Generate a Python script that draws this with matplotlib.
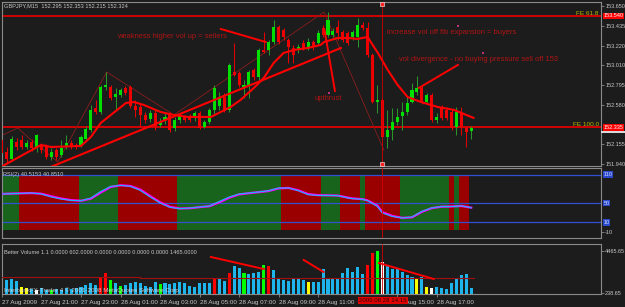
import matplotlib
matplotlib.use("Agg")
import matplotlib.pyplot as plt
import matplotlib.transforms as mtransforms
from matplotlib.lines import Line2D

############################################
# DATA
############################################

symbol = "GBPJPY,M15"

opens = [152.200, 152.070, 151.994, 152.178, 152.200, 152.124, 152.178, 152.124, 152.135, 152.124,
         152.016, 152.091, 152.037, 152.124, 152.167, 152.146, 152.146, 152.210, 152.308, 152.546,
         152.503, 152.773, 152.773, 152.665, 152.687, 152.763, 152.773, 152.568, 152.557, 152.470,
         152.427, 152.492, 152.362, 152.416, 152.481, 152.330, 152.416, 152.449, 152.460, 152.438,
         152.492, 152.340, 152.395, 152.525, 152.568, 152.665, 152.525, 152.936, 152.925, 152.773,
         152.795, 152.957, 152.882, 153.174, 153.174, 153.260, 153.423, 153.390, 153.282, 153.195,
         153.174, 153.250, 153.206, 153.260, 153.250, 153.412, 153.336, 153.336, 153.423, 153.369,
         153.358, 153.315, 153.315, 153.444, 153.412, 153.120, 152.611, 152.633, 152.232, 152.308,
         152.395, 152.460, 152.503, 152.611, 152.719, 152.763, 152.611, 152.687, 152.416, 152.557,
         152.525, 152.503, 152.340, 152.492, 152.330, 152.295]
highs = [152.221, 152.124, 152.243, 152.221, 152.254, 152.200, 152.210, 152.265, 152.167, 152.156,
         152.113, 152.113, 152.200, 152.254, 152.200, 152.167, 152.254, 152.351, 152.579, 152.633,
         152.795, 152.936, 152.795, 152.763, 152.763, 152.784, 152.795, 152.633, 152.600, 152.503,
         152.525, 152.525, 152.438, 152.492, 152.503, 152.449, 152.492, 152.470, 152.481, 152.514,
         152.514, 152.416, 152.546, 152.795, 152.719, 152.708, 153.033, 153.250, 152.947, 152.849,
         152.957, 152.979, 153.195, 153.369, 153.282, 153.499, 153.444, 153.412, 153.304, 153.228,
         153.239, 153.282, 153.304, 153.282, 153.390, 153.444, 153.585, 153.412, 153.499, 153.390,
         153.379, 153.390, 153.520, 153.477, 153.477, 153.141, 152.795, 152.654, 152.525, 152.546,
         152.546, 152.611, 152.665, 152.817, 152.892, 152.784, 152.708, 152.708, 152.492, 152.579,
         152.557, 152.525, 152.557, 152.557, 152.351, 152.353]
lows = [152.016, 151.951, 151.972, 152.091, 152.102, 152.102, 152.081, 152.070, 152.059, 151.994,
        151.983, 151.983, 152.016, 152.102, 152.102, 152.102, 152.124, 152.189, 152.286, 152.481,
        152.481, 152.741, 152.633, 152.525, 152.665, 152.687, 152.546, 152.449, 152.340, 152.384,
        152.395, 152.308, 152.340, 152.373, 152.286, 152.297, 152.384, 152.395, 152.395, 152.405,
        152.319, 152.330, 152.373, 152.481, 152.525, 152.503, 152.503, 152.892, 152.773, 152.654,
        152.654, 152.849, 152.849, 153.141, 153.120, 153.239, 153.239, 153.282, 153.033, 153.033,
        153.141, 153.174, 153.174, 153.174, 153.228, 153.315, 153.315, 153.315, 153.282, 153.260,
        153.228, 153.282, 153.206, 153.390, 153.098, 152.600, 152.492, 152.221, 152.113, 152.200,
        152.362, 152.308, 152.470, 152.600, 152.687, 152.589, 152.589, 152.395, 152.384, 152.416,
        152.416, 152.308, 152.254, 152.254, 152.124, 152.215]
closes = [152.059, 151.994, 152.210, 152.124, 152.124, 152.167, 152.113, 152.254, 152.091, 152.016,
          152.070, 152.016, 152.113, 152.167, 152.124, 152.124, 152.232, 152.319, 152.525, 152.503,
          152.773, 152.795, 152.654, 152.698, 152.741, 152.708, 152.568, 152.525, 152.470, 152.416,
          152.492, 152.340, 152.395, 152.449, 152.308, 152.416, 152.460, 152.416, 152.416, 152.492,
          152.330, 152.395, 152.525, 152.763, 152.654, 152.525, 153.012, 152.903, 152.795, 152.795,
          152.936, 152.882, 153.174, 153.152, 153.260, 153.423, 153.260, 153.315, 153.206, 153.120,
          153.206, 153.195, 153.260, 153.206, 153.358, 153.336, 153.499, 153.379, 153.358, 153.282,
          153.250, 153.369, 153.444, 153.412, 153.120, 152.611, 152.633, 152.232, 152.308, 152.395,
          152.449, 152.503, 152.600, 152.741, 152.763, 152.611, 152.687, 152.416, 152.449, 152.438,
          152.438, 152.330, 152.503, 152.340, 152.286, 152.324]

# moving average (thick red) and drawn trendline
ma_x = [-0.2, 7.9, 9.9, 16.0, 18.0, 20.0, 25.1, 26.7, 28.7, 32.1, 34.8, 37.6,
        42.3, 44.3, 46.3, 48.3, 51.0, 53.0, 55.0, 57.0, 59.1, 61.9, 64.5, 65.2,
        68.0, 70.0, 72.0, 74.0, 76.1, 78.1, 80.1, 82.1, 84.8, 88.2, 91.5, 95.5]
ma_y = [151.908, 152.146, 152.124, 152.135, 152.232, 152.384, 152.600, 152.611, 152.579, 152.503, 152.470, 152.449,
        152.449, 152.503, 152.557, 152.633, 152.763, 152.871, 153.033, 153.141, 153.174, 153.195, 153.228, 153.260,
        153.304, 153.304, 153.293, 153.315, 153.141, 152.957, 152.795, 152.665, 152.611, 152.557, 152.525, 152.438]
trend_x = [9.9, 68.6]
trend_y = [151.908, 153.195]

# thin zigzag / fib expansion swing line
zz_x = [0.2, 3.2, 5.2, 11.3, 21.2, 34.8, 65.2, 77.3]
zz_y = [152.254, 152.330, 152.232, 151.962, 152.936, 152.470, 153.585, 152.091]

fe_levels = [153.542, 152.335]
fe_names = ["FE 61.8", "FE 100.0"]
fe_tags = ["153.540", "152.335"]

# annotation pointers on price
note_lines = [([44.3, 53.4], [153.401, 153.260]),
              ([65.3, 67.4], [153.390, 152.730]),
              ([92.3, 84.4], [153.012, 152.763])]
note_texts = [("weakness higher vol up = sellers", 23.2, 153.325),
              ("upthrust", 63.3, 152.644),
              ("increase vol off fib expansion = buyers", 77.9, 153.358),
              ("vol divergence - no buying pressure sell off 153", 80.3, 153.066)]
note_dots_x = [92.3, 97.3, 66.2]
note_dots_y = [153.434, 153.141, 152.709]

price_ticks = [153.650, 153.435, 153.220, 153.010, 152.795, 152.580, 152.155, 151.940]

# RSI(2) panel
rsi_x = [0, 2, 6, 8, 10, 12, 14, 16, 18, 20, 22, 24, 26, 28, 30, 32, 34, 36, 38, 40,
         42, 44, 46, 48, 50, 52, 54, 56, 58, 60, 62, 64, 66, 68, 70, 71, 73, 74, 76, 77,
         79, 81, 83, 85, 87, 89, 91, 93, 95]
rsi_main = [69.3, 70.0, 71.5, 69.3, 63.0, 58.8, 55.9, 55.3, 60.8, 74.7, 85.2, 87.3, 85.2, 76.8, 63.0,
            50.5, 41.3, 38.6, 40.0, 42.1, 44.2, 53.8, 63.0, 69.3, 71.4, 73.5, 76.2, 81.8, 81.8, 76.2,
            67.9, 66.4, 66.4, 65.8, 61.0, 59.5, 58.1, 55.3, 43.4, 29.5, 22.5, 19.2, 21.3, 33.2, 40.3,
            43.0, 43.0, 44.5, 40.5153]
rsi_sig = [69.5, 70.2, 71.2, 69.8, 64.5, 59.8, 56.5, 55.2, 59.5, 72.5, 84.0, 87.5, 86.0, 78.5, 65.0,
           52.0, 42.5, 39.0, 39.6, 41.8, 43.8, 52.0, 61.5, 68.5, 71.0, 73.2, 75.6, 81.0, 82.0, 77.0,
           69.0, 66.8, 66.5, 66.0, 61.8, 60.0, 58.5, 56.0, 45.0, 31.5, 23.5, 19.5, 20.5, 32.0, 39.8,
           42.8, 43.2, 44.2, 40.8510]
rsi_runs = [("g", 4), ("r", 12), ("g", 8), ("r", 12), ("g", 21), ("r", 8), ("g", 4),
            ("r", 4), ("g", 1), ("r", 7), ("g", 10), ("r", 1), ("g", 1), ("r", 2)]
rsi_levels = [110, 50, 10]

# Better Volume panel
volumes = [1648, 1547, 1617, 1476, 873, 712, 641, 541, 742, 541,
           541, 641, 541, 742, 641, 742, 842, 1044, 1215, 1044,
           1819, 2221, 1547, 1215, 973, 1044, 1215, 1315, 1215, 943,
           873, 1376, 1114, 1215, 1144, 1275, 1315, 1215, 943, 873,
           1215, 1275, 1275, 1718, 1648, 1446, 2221, 2986, 2724, 2221,
           2151, 2221, 2322, 3057, 2956, 2553, 1718, 1547, 1476, 1617,
           1778, 1547, 1376, 1376, 1376, 2654, 1617, 1617, 1718, 2221,
           2724, 2382, 2885, 2151, 3057, 4300, 4465, 3389, 2956, 2624,
           2654, 2382, 2050, 1879, 1617, 1819, 873, 712, 873, 712,
           612, 1215, 1617, 2050, 2151, 712]
vol_kind = ("BBBBYYBWBB" "GBBBBBBBBB" "RRGBGBBBBB" "BBGBBBBBBB" "BBBRBBRBBG"
            "BBBGRBBBBB" "BBYBBBBBBB" "BBBBRRGWBB" "BBBBYBYWBB" "BBBBBB")
vol_avg_x = [-0.5, 28, 28, 95.5]
vol_avg_y = [1879, 1879, 1748, 1748]
vol_lines = [([42.3, 53.0], [3862, 2654]),
             ([61.1, 65.1], [3560, 2352]),
             ([76.3, 87.4], [3258, 1648])]
vol_ticks = [4465.65, 238.65]

# 13:00 label is hidden under the crosshair date box in the screenshot
time_pos = [0, 8, 16, 24, 32, 40, 48, 56, 64, 80, 88]
time_labels = ["27 Aug 2009", "27 Aug 21:00", "27 Aug 23:00", "28 Aug 01:00", "28 Aug 03:00",
               "28 Aug 05:00", "28 Aug 07:00", "28 Aug 09:00", "28 Aug 11:00",
               "28 Aug 15:00", "28 Aug 17:00"]
cross_bar = 77
cross_label = "2009.08.28 14:15"

############################################
# STYLE
############################################

plt.rcParams["font.family"] = ["Liberation Sans", "DejaVu Sans"]

BG = "#1c1c1c"
GRID = "#8a8a8a"
TXT = "#c8c8c8"
RED = "#ff0000"
NOTE = "#b01414"
FS_AX = 4.0
FS_T = 4.1

W, H = 625, 307
fig = plt.figure(figsize=(W / 100, H / 100), dpi=100)
fig.patch.set_facecolor(BG)


def px_axes(x0, y0, x1, y1):
    a = fig.add_axes([x0 / W, 1 - y1 / H, (x1 - x0) / W, (y1 - y0) / H])
    a.set_facecolor(BG)
    for s in a.spines.values():
        s.set_color(GRID)
        s.set_linewidth(0.8)
    a.set_xlim(-0.05, 121.2)
    a.tick_params(axis="y", left=False, right=True, labelleft=False, labelright=True,
                  colors=GRID, labelcolor=TXT, labelsize=FS_AX, length=2, pad=1.2, width=0.6)
    a.tick_params(axis="x", bottom=False, labelbottom=False)
    return a


def right_box(a, y, text, fc, tc):
    tr = mtransforms.blended_transform_factory(a.transAxes, a.transData)
    a.text(1.0045, y, text, transform=tr, fontsize=FS_AX, color=tc, va="center", ha="left",
           clip_on=False, zorder=10,
           bbox=dict(facecolor=fc, edgecolor="none", pad=0.5))


############################################
# PRICE PANEL
############################################

ax = px_axes(1.7, 2, 600.7, 166)
ax.set_ylim(151.918, 153.693)
ax.set_yticks(price_ticks)
ax.set_yticklabels([f"{v:.3f}" for v in price_ticks])

idx = list(range(len(closes)))
is_up = [cl >= op for op, cl in zip(opens, closes)]
body_col = ["#00e000" if u else "#ee0000" for u in is_up]
wick_col = ["#2a9a2a" if u else "#ee0000" for u in is_up]
body_lo = [min(op, cl) for op, cl in zip(opens, closes)]
body_h = [max(abs(cl - op), 0.006) for op, cl in zip(opens, closes)]

for lvl in fe_levels:
    ax.axhline(lvl, color="#e00000", lw=1.3, zorder=1)
ax.plot(zz_x, zz_y, color="#8a1c1c", lw=0.6, zorder=1)
ax.vlines(idx, lows, highs, colors=wick_col, lw=0.7, zorder=2)
ax.bar(idx, body_h, bottom=body_lo, width=0.62, color=body_col, lw=0, zorder=3)
ax.plot(ma_x, ma_y, color=RED, lw=1.5, zorder=4, solid_capstyle="round")
ax.plot(trend_x, trend_y, color=RED, lw=1.5, zorder=4)
for xs, ys in note_lines:
    ax.plot(xs, ys, color=RED, lw=1.4, zorder=4)
for s, x, y in note_texts:
    ax.text(x, y, s, color=NOTE, fontsize=5.4, va="center", ha="left", zorder=5)
ax.scatter(note_dots_x, note_dots_y, s=1.5, marker="s", color="#c0307a", zorder=5, lw=0)

ax.axvline(cross_bar, color="#d00000", lw=0.6, zorder=4)
ax.plot([cross_bar, cross_bar], [153.675, 151.935], ls="none", marker="s", ms=2.2,
        mfc="#ff2020", mec="white", mew=0.4, zorder=6, clip_on=False)

for lvl, name in zip(fe_levels, fe_names):
    ax.text(120.8, lvl + 0.03, name, color="#b8b800", fontsize=4.6, ha="right", va="center")
for lvl, tag in zip(fe_levels, fe_tags):
    right_box(ax, lvl, tag, "#ff0000", "white")
# current bid marker sitting under the FE 100 tag
fig.add_artist(Line2D([601.5 / W, 625 / W], [1 - 131.5 / H, 1 - 131.5 / H],
                      color="white", lw=1.2))

fig.text(4 / W, 1 - 5.5 / H,
         f"{symbol}  {opens[-1]:.3f} {highs[-1]:.3f} {lows[-1]:.3f} {closes[-1]:.3f}",
         color=TXT, fontsize=FS_T, va="center", ha="left")

############################################
# RSI PANEL
############################################

rx = px_axes(1.7, 168, 600.7, 238)
rx.set_ylim(-22.6, 123.6)
starts, widths, cols = [], [], []
pos = -0.5
for kind, n in rsi_runs:
    starts.append(pos)
    widths.append(n)
    cols.append("#9a0000" if kind == "r" else "#18641c")
    pos += n
rx.bar(starts, [115] * len(starts), width=widths, bottom=-6, align="edge",
       color=cols, lw=0, zorder=1)
for lvl in rsi_levels:
    rx.axhline(lvl, color="#3050d0", lw=0.9, zorder=2)
rx.plot(rsi_x, rsi_sig, color="#ff00ff", lw=1.6, zorder=3)
rx.plot(rsi_x, rsi_main, color="#00c8ff", lw=0.7, zorder=4)
rx.axvline(cross_bar, color="#d00000", lw=0.6, zorder=5)
rx.set_yticks([-10])
rx.set_yticklabels(["-10"])
for lvl in rsi_levels:
    right_box(rx, lvl, str(lvl), "#2a48c8", "#d0d8ff")
fig.text(3 / W, 1 - 174.5 / H, f"RSI(2) {rsi_main[-1]:.4f} {rsi_sig[-1]:.4f}",
         color=TXT, fontsize=FS_T, va="center", ha="left")

############################################
# VOLUME PANEL
############################################

vx = px_axes(1.7, 244, 600.7, 294)
vx.set_ylim(138, 5170)
kind_col = {"B": "#1eb4ec", "R": "#ff0000", "G": "#00ff00", "Y": "#ffff00", "W": "#ffffff"}
vx.bar(idx, volumes, width=0.62, color=[kind_col[k] for k in vol_kind], lw=0, zorder=2)
vx.plot(vol_avg_x, vol_avg_y, color="#a01010", lw=0.8, zorder=3)
for xs, ys in vol_lines:
    vx.plot(xs, ys, color=RED, lw=1.4, zorder=4)
vx.axvline(cross_bar, color="#d00000", lw=0.6, zorder=5)
vx.set_yticks(vol_ticks)
vx.set_yticklabels([f"{v:.2f}" for v in vol_ticks])
vx.set_xticks(time_pos)
vx.set_xticklabels(time_labels)
vx.tick_params(axis="x", bottom=True, labelbottom=True, colors=GRID, labelcolor=TXT,
               labelsize=4.5, length=2.5, pad=1.5, width=0.6)
for t in vx.get_xticklabels():
    t.set_horizontalalignment("left")
fig.text(4 / W, 1 - 253 / H,
         "Better Volume 1.1 0.0000 602.0000 0.0000 0.0000 0.0000 0.0000 1465.0000",
         color=TXT, fontsize=FS_T, va="center", ha="left")
fig.text(4 / W, 1 - 290.5 / H,
         "InterbankFX-Trader 4 \u00a9 2001-2008 MetaQuotes Software Corp.",
         color="#e0e0e0", fontsize=4.5, va="center", ha="left", alpha=0.85, zorder=6)
fig.text(383 / W, 1 - 300.5 / H, cross_label, color="#300000", fontsize=4.4,
         va="center", ha="center", zorder=7,
         bbox=dict(facecolor="#e00000", edgecolor="none", pad=0.8))

fig.savefig("out.png", dpi=100, facecolor=BG)
